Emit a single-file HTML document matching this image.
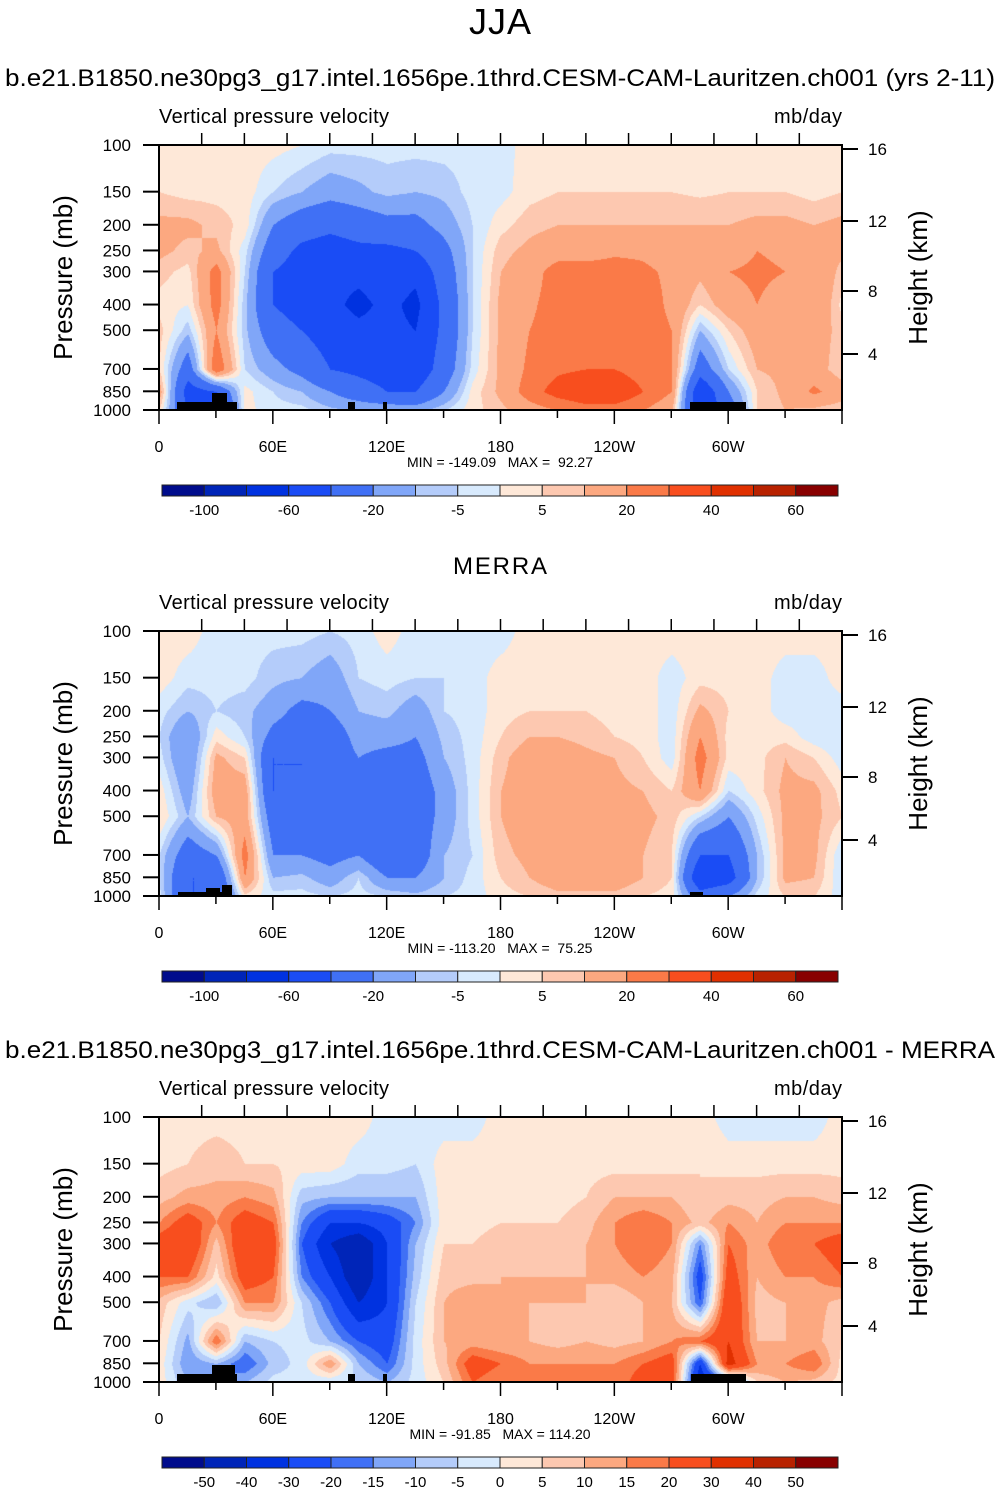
<!DOCTYPE html>
<html><head><meta charset="utf-8"><style>
body{margin:0;background:#fff;width:1001px;height:1492px;position:relative;overflow:hidden;font-family:"Liberation Sans",Arial,sans-serif}
svg{position:absolute;left:0;top:0}
svg text{white-space:pre}
canvas{position:absolute}
</style></head><body>
<div>
<canvas id="c0" width="683" height="265" style="left:159px;top:145px"></canvas>
<canvas id="c1" width="683" height="265" style="left:159px;top:631px"></canvas>
<canvas id="c2" width="683" height="265" style="left:159px;top:1117px"></canvas>
<svg id="s" width="1001" height="1492"></svg>
</div>
<script>
const pressures=[100,150,200,250,300,400,500,700,850,1000];
const lons=[0,15,30,45,60,75,90,105,120,135,150,165,180,195,210,225,240,255,270,285,300,315,330,345];
const boundsA=[-100,-80,-60,-40,-20,-10,-5,0,5,10,20,30,40,50,60];
const boundsB=[-50,-40,-30,-20,-15,-10,-5,0,5,10,15,20,30,40,50];
const labelsA=["-100","-60","-20","-5","5","20","40","60"];
const labelsB=["-50","-40","-30","-20","-15","-10","-5","0","5","10","15","20","30","40","50"];
const palette=["#000c8c","#0025b8","#0032e0","#1a4cf5","#4070f5","#80a6f8","#b4ccfa","#d8eafd","#fee8d8","#fdc8b0","#fca880","#fa7a48","#f84e1e","#e03000","#b82200","#880000"];
const modelVals=[
[3,5,12,12,7,3,7,5,15,5],[3,3,12,8,3,0,-8,-30,-50,-40],[3,3,8,12,25,25,20,30,-40,-60],[3,3,3,-3,-5,-8,-8,-5,2,2],
[2,-5,-20,-30,-40,-40,-30,-15,-5,-3],[0,-10,-30,-45,-50,-50,-40,-25,-10,-3],[-3,-15,-35,-50,-55,-55,-50,-40,-20,-8],[-3,-12,-30,-45,-55,-65,-55,-45,-30,-10],
[-3,-8,-25,-45,-50,-55,-55,-50,-40,-10],[-3,-10,-25,-40,-55,-65,-60,-55,-40,-12],[-3,-8,-15,-25,-30,-35,-35,-30,-20,-5],[-3,-3,-5,-5,-5,-5,-5,-3,2,3],
[-3,-2,3,8,10,12,12,12,12,8],[3,3,8,12,15,18,20,22,25,15],[3,5,10,15,25,25,25,28,35,20],[3,5,10,15,25,25,25,30,40,25],
[3,5,10,18,25,25,25,30,40,25],[3,5,10,18,22,25,25,25,30,20],[3,5,10,15,18,18,20,20,20,12],[3,4,10,15,12,5,-10,-30,-60,-60],
[3,5,10,15,20,15,5,-5,-20,-30],[3,5,12,20,22,20,15,10,5,5],[3,5,12,18,20,15,12,12,12,10],[3,3,10,15,20,20,15,15,22,8]];
const merraVals=[
[3,3,-3,-5,-3,3,5,-5,-5,-3],[3,-3,-10,-20,-20,-15,-10,-30,-40,-40],[-3,-3,-5,3,12,15,10,-20,-40,-40],[-3,-3,-8,-5,5,15,15,25,20,3],
[-3,-8,-15,-25,-40,-40,-30,-20,-10,-3],[-3,-10,-25,-30,-40,-40,-30,-20,-8,-3],[-5,-15,-20,-30,-30,-30,-25,-25,-15,-5],[-3,-5,-10,-15,-20,-20,-20,-20,-5,-3],
[3,-3,-8,-15,-25,-30,-35,-35,-20,-5],[-3,-5,-15,-20,-25,-30,-30,-30,-20,-8],[-3,-5,-5,-8,-10,-15,-15,-10,-10,-5],[-3,-3,-3,-3,-3,-3,-3,-5,-3,-3],
[-3,3,3,5,8,10,10,8,5,3],[3,3,5,10,15,15,15,12,10,5],[3,3,5,10,15,15,15,15,15,8],[3,3,5,8,12,15,20,18,15,8],
[3,3,3,5,10,12,15,15,15,8],[3,3,3,3,5,10,12,10,10,5],[3,-3,-3,-3,-3,5,8,5,5,3],[3,3,12,20,25,20,-5,-40,-60,-30],
[3,3,5,3,3,-5,-20,-40,-50,-20],[3,3,3,3,3,3,-3,-10,-10,-3],[3,-3,-3,3,10,12,12,12,12,5],[3,-3,-3,-3,5,12,12,12,10,5]];
const diffVals=[
[3,3,8,15,25,20,8,5,3,3],[3,5,12,25,30,20,-3,-12,-15,-10],[3,8,12,15,8,3,-10,20,-10,-20],[3,5,15,25,30,25,15,-10,-20,-10],
[3,5,12,20,25,20,15,-5,-8,-3],[3,3,-8,-15,-20,-15,-5,-3,-3,-3],[3,3,-10,-30,-40,-30,-20,-10,15,-5],[3,-3,-10,-30,-50,-50,-40,-20,-10,-5],
[-3,-3,-10,-25,-30,-30,-30,-25,-20,-10],[-3,-5,-10,-15,-10,-8,-5,-3,-3,-3],[-3,3,3,3,5,8,10,10,8,5],[-3,3,3,3,5,8,15,12,25,20],
[3,3,3,5,8,10,10,10,20,15],[3,3,3,5,8,10,10,10,15,20],[3,3,3,5,8,10,10,8,15,20],[3,3,5,8,10,10,10,10,15,15],
[3,3,10,15,15,12,5,8,15,15],[3,3,10,20,20,15,10,10,20,25],[3,3,10,15,15,12,10,15,25,25],[3,5,5,8,-15,-25,-20,20,-30,-40],
[-3,3,8,15,20,25,30,30,35,-20],[-3,3,8,10,12,10,8,10,15,5],[-3,3,10,15,20,15,10,10,15,10],[-3,3,10,15,20,15,12,12,20,8]];
const minmax=["MIN = -149.09   MAX =  92.27","MIN = -113.20   MAX =  75.25","MIN = -91.85   MAX = 114.20"];

const X0=159,W=683,H=265,PH=[145,631,1117];
const xOf=lon=>X0+lon/360*W;
const yOf=(p,top)=>top+Math.log10(p/100)*H;
function rgb(h){return [parseInt(h.substr(1,2),16),parseInt(h.substr(3,2),16),parseInt(h.substr(5,2),16)];}
const pal=palette.map(rgb);
function levelIdx(v,b){let i=0;while(i<b.length&&v>=b[i])i++;return i;}
function drawField(id,vals,bounds){
  const ctx=document.getElementById(id).getContext('2d');
  const img=ctx.createImageData(W,H);
  const ly=pressures.map(p=>Math.log10(p/100)*H);
  for(let py=0;py<H;py++){
    let r=0;while(r<ly.length-2&&py>ly[r+1])r++;
    const fy=Math.min(1,Math.max(0,(py-ly[r])/(ly[r+1]-ly[r])));
    for(let px=0;px<W;px++){
      const lon=px/W*360;let c=Math.floor(lon/15);const fx=(lon-c*15)/15;
      const c1=(c+1)%lons.length;c=c%lons.length;
      const a=vals[c][r]*(1-fy)+vals[c][r+1]*fy;
      const b=vals[c1][r]*(1-fy)+vals[c1][r+1]*fy;
      const v=a*(1-fx)+b*fx;
      const col=pal[levelIdx(v,bounds)];
      const k=(py*W+px)*4;img.data[k]=col[0];img.data[k+1]=col[1];img.data[k+2]=col[2];img.data[k+3]=255;
    }
  }
  ctx.putImageData(img,0,0);
}
drawField('c0',modelVals,boundsA);drawField('c1',merraVals,boundsA);drawField('c2',diffVals,boundsB);

const s=document.getElementById('s');const NS='http://www.w3.org/2000/svg';
function el(tag,attrs,parent,text){const e=document.createElementNS(NS,tag);for(const k in attrs)e.setAttribute(k,attrs[k]);if(text!==undefined)e.textContent=text;(parent||s).appendChild(e);return e;}
function txt(x,y,t,size,anchor,name,extra){const e=el('text',Object.assign({x:x,y:y,'font-size':size,'text-anchor':anchor||'middle','font-family':'Liberation Sans, Arial, sans-serif',fill:'#000'},extra||{}),s,t);

return e;}

txt(500,34,"JJA",36,'middle','main-title',{textLength:62});
txt(500,86,"b.e21.B1850.ne30pg3_g17.intel.1656pe.1thrd.CESM-CAM-Lauritzen.ch001 (yrs 2-11)",24,'middle','model-title',{textLength:990,lengthAdjust:'spacingAndGlyphs'});
txt(500,574,"MERRA",24,'middle','merra-title',{textLength:94});
txt(500,1058,"b.e21.B1850.ne30pg3_g17.intel.1656pe.1thrd.CESM-CAM-Lauritzen.ch001 - MERRA",24,'middle','diff-title',{textLength:990,lengthAdjust:'spacingAndGlyphs'});

const heights=[16,12,8,4];const hY=[149,221,291,354];
const topo=[[[177,402,237,410],[212,393,227,410],[348,402,355,410],[383,402,387,410],[690,402,746,410]],
[[178,892,232,896],[206,888,220,896],[222,885,232,896],[690,892,703,896]],
[[177,1374,237,1382],[212,1365,235,1382],[348,1374,355,1382],[383,1374,387,1382],[691,1374,746,1382]]];
const lonLabels=["0","60E","120E","180","120W","60W"];
for(let i=0;i<3;i++){
  const top=PH[i],off=top-145;
  topo[i].forEach(r=>{const e=el('rect',{x:r[0],y:r[1],width:r[2]-r[0],height:r[3]-r[1],fill:'#000'});
  
  });
  const f=el('rect',{x:X0,y:top,width:W,height:H,fill:'none',stroke:'#000','stroke-width':2});
  
  
  txt(159,top-22,"Vertical pressure velocity",20,'start','field-label',{textLength:230});
  txt(842,top-22,"mb/day",20,'end','units-label',{textLength:68});
  pressures.forEach(p=>{const y=yOf(p,top);el('line',{x1:143,x2:159,y1:y,y2:y,stroke:'#000','stroke-width':2});
    txt(131,y+6,String(p),17,'end','pressure-tick-label');});
  heights.forEach((h,j)=>{const y=hY[j]+off;el('line',{x1:842,x2:858,y1:y,y2:y,stroke:'#000','stroke-width':2});
    txt(868,y+6,String(h),17,'start','height-tick-label');});
  for(let k=1;k<16;k++){const x=X0+k*W/16;el('line',{x1:x,x2:x,y1:top-12,y2:top,stroke:'#000','stroke-width':1.5});}
  for(let k=0;k<=12;k++){const x=xOf(k*30);el('line',{x1:x,x2:x,y1:top+H,y2:top+H+(k%2?8:14),stroke:'#000','stroke-width':1.5});}
  lonLabels.forEach((l,k)=>txt(xOf(k*60),top+H+42,l,16,'middle','lon-tick-label'));
  txt(63,top+H/2,"Pressure (mb)",26,'middle','y-axis-title',{transform:`rotate(-90 63 ${top+H/2})`,dy:9});
  txt(918,top+H/2,"Height (km)",26,'middle','y2-axis-title',{transform:`rotate(-90 918 ${top+H/2})`,dy:9});
  txt(500,top+H+57,minmax[i],14,'middle','min-max-label');
  const cy=485+off,bw=676/16;
  for(let k=0;k<16;k++){const r=el('rect',{x:162+k*bw,y:cy,width:bw,height:11,fill:palette[k],stroke:'#222','stroke-width':1});
    
    }
  if(i<2){labelsA.forEach((l,k)=>txt(162+(2*k+1)*bw,cy+30,l,15,'middle','colorbar-label'));}
  else{labelsB.forEach((l,k)=>txt(162+(k+1)*bw,cy+30,l,15,'middle','colorbar-label'));}
}
</script>
</body></html>
